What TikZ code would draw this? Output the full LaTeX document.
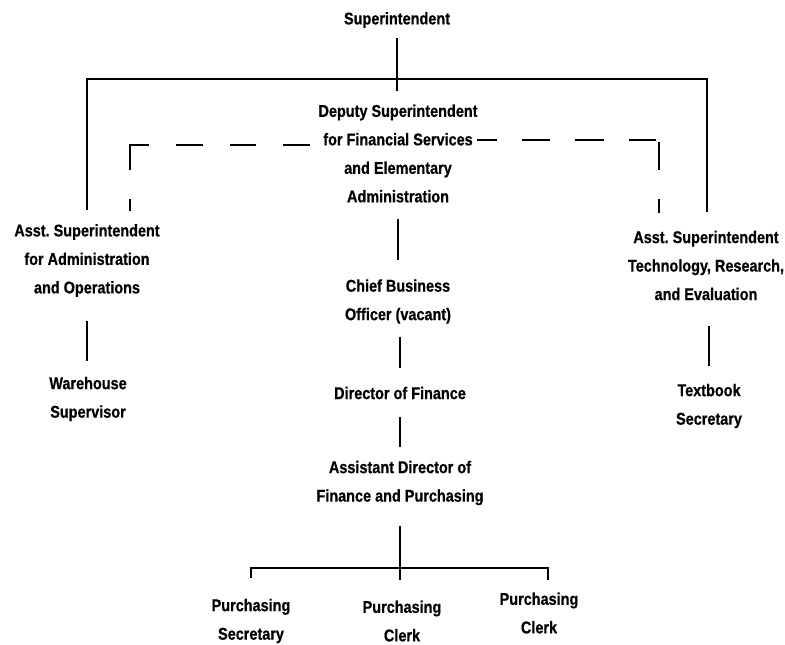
\documentclass[tikz,border=0pt]{standalone}
\usepackage{fontspec}
\setmainfont{Liberation Sans}[FakeStretch=0.85,FakeBold=0.6]
\frenchspacing
\begin{document}
\begin{tikzpicture}[x=1pt,y=-1pt,
  lbl/.style={font=\fontsize{17}{28.5}\selectfont\bfseries, align=center, inner sep=0pt, outer sep=0pt},
  link/.style={line width=1.2pt},
  dashlink/.style={line width=1.2pt}]
\useasboundingbox[fill=white] (0,0) rectangle (785,645);

\node[lbl] (sup) at (397,20) {Superintendent};
\node[lbl] (dep) at (398,153.5) {Deputy Superintendent\\for Financial Services\\and Elementary\\Administration};
\node[lbl] (asstL) at (87,260.5) {Asst. Superintendent\\for Administration\\and Operations};
\node[lbl] (asstR) at (706,265.5) {Asst. Superintendent\\Technology, Research,\\and Evaluation};
\node[lbl] (ware) at (88,399) {Warehouse\\Supervisor};
\node[lbl] (tbs) at (709,406) {Textbook\\Secretary};
\node[lbl] (chief) at (398,301.5) {Chief Business\\Officer (vacant)};
\node[lbl] (dir) at (400,393) {Director of Finance};
\node[lbl] (adir) at (400,483) {Assistant Director of\\Finance and Purchasing};
\node[lbl] (ps) at (251,621) {Purchasing\\Secretary};
\node[lbl] (pc1) at (402,621) {Purchasing\\Clerk};
\node[lbl] (pc2) at (539,613) {Purchasing\\Clerk};

\coordinate (topbar) at (397,79);
\coordinate (dL) at (130,145);
\coordinate (dR) at (659,140);
\coordinate (pbar) at (399,568);
\coordinate (dropR) at (548,580);

\draw[link, shorten <=10pt, shorten >=14pt] (sup.south) -- (sup.south |- dep.north);
\draw[link, shorten <=14pt, shorten >=19pt] (asstL.north) |- (topbar) -| ([xshift=1pt]asstR.north);

\draw[dashlink, dash pattern=on 27pt off 27pt on 26pt off 27pt on 27pt off 27pt on 44pt off 29pt on 30pt, shorten <=9pt, shorten >=13pt] (dep.west |- dL) -| (asstL.north -| dL);
\draw[dashlink, dash pattern=on 20pt off 25pt on 28pt off 25pt on 29pt off 25pt on 27pt off 5pt on 28pt off 29pt on 30pt, shorten >=18pt] (dep.east |- dR) -| (asstR.north -| dR);

\draw[link, shorten <=17pt, shorten >=19pt] (dep.south) -- (chief.north);
\draw[link, shorten <=13pt, shorten >=19pt] (dir.north |- chief.south) -- (dir.north);
\draw[link, shorten <=18pt, shorten >=14pt] (dir.south) -- (adir.north);
\draw[link, shorten <=21pt, shorten >=21pt] (adir.south) -- (adir.south |- pc1.north);
\draw[link, shorten <=21pt] (ps.north) |- (pbar) -| (dropR);

\draw[link, shorten <=24pt, shorten >=16pt] (asstL.south) -- (asstL.south |- ware.north);
\draw[link, shorten <=26pt, shorten >=18pt] (tbs.north |- asstR.south) -- (tbs.north);
\end{tikzpicture}
\end{document}
